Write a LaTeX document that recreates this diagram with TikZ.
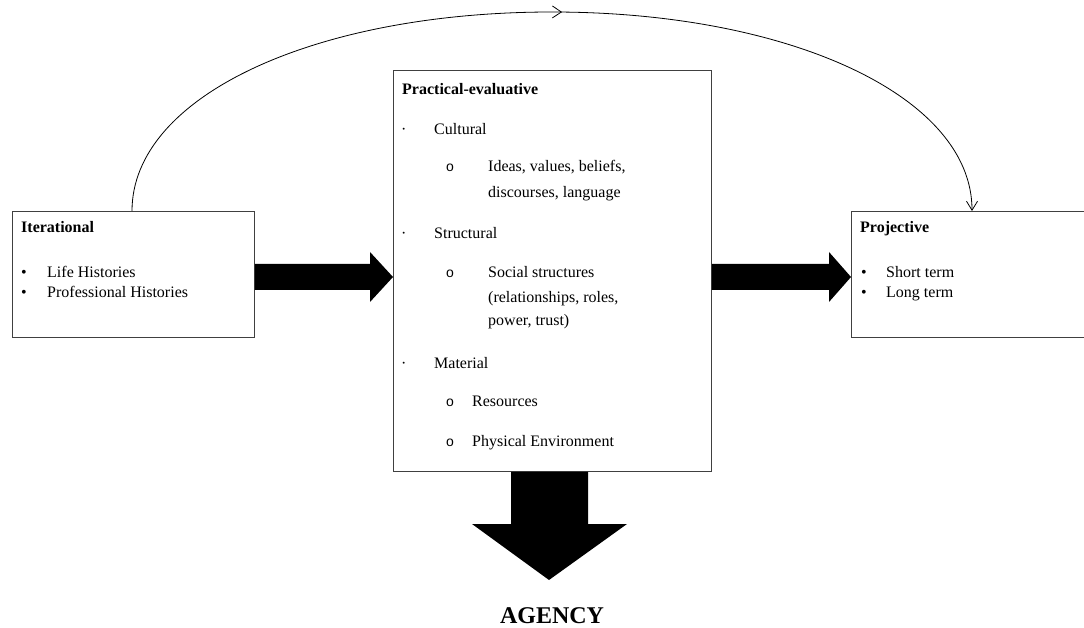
\documentclass[tikz,border=0pt]{standalone}
\usepackage{fontspec}
\setmainfont{Liberation Serif}
\newfontfamily\bulletfont{Liberation Sans}
\usetikzlibrary{arrows.meta,decorations.markings,calc}
\begin{document}
\begin{tikzpicture}[x=1pt,y=-1pt,
  box/.style={draw=black!75, line width=0.8pt, anchor=north west, inner sep=0pt},
  txt/.style={anchor=base west, inner sep=0pt, font=\fontsize{16}{18}\selectfont},
  ttl/.style={txt, font=\fontsize{16}{18}\selectfont\bfseries},
  bul/.style={anchor=base west, inner sep=0pt, font=\fontsize{16}{18}\selectfont},
  sub/.style={anchor=base west, inner sep=0pt, font=\bulletfont\fontsize{14}{16}\selectfont},
  blk/.style={fill=black},
  curv/.style={draw=black, line width=0.8pt}
]
\clip (0,0) rectangle (1084,628);
\useasboundingbox (0,0) rectangle (1084,628);

% boxes
\node[box, minimum width=242pt, minimum height=126pt] (iter) at (12,211) {};
\node[box, minimum width=318pt, minimum height=401pt] (mid) at (393,70) {};
\node[box, minimum width=260pt, minimum height=126pt] (proj) at (851,211) {};

% Iterational text
\node[ttl] (it0) at (21,233) {Iterational};
\node[bul] (itb1) at (21,278) {\textbullet};
\node[txt] (it1) at (47,278) {Life Histories};
\node[bul] (itb2) at (21,298) {\textbullet};
\node[txt] (it2) at (47,298) {Professional Histories};

% Practical-evaluative text
\node[ttl] (m0) at (402,95) {Practical-evaluative};
\node[bul] (md1) at (401,135) {·};
\node[txt] (m1) at (434,135) {Cultural};
\node[sub] (mo1) at (446,172) {o};
\node[txt] (m2) at (488,172) {Ideas, values, beliefs,};
\node[txt] (m3) at (488,198) {discourses, language};
\node[bul] (md2) at (401,239) {·};
\node[txt] (m4) at (434,239) {Structural};
\node[sub] (mo2) at (446,278) {o};
\node[txt] (m5) at (488,278) {Social structures};
\node[txt] (m6) at (488,302) {(relationships, roles,};
\node[txt] (m7) at (488,326) {power, trust)};
\node[bul] (md3) at (401,368) {·};
\node[txt] (m8) at (434,368) {Material};
\node[sub] (mo3) at (446,406) {o};
\node[txt] (m9) at (472,406) {Resources};
\node[sub] (mo4) at (446,446) {o};
\node[txt] (m10) at (472,446) {Physical Environment};

% Projective text
\node[ttl] (p0) at (860,233) {Projective};
\node[bul] (pb1) at (861,278) {\textbullet};
\node[txt] (p1) at (886,278) {Short term};
\node[bul] (pb2) at (861,298) {\textbullet};
\node[txt] (p2) at (886,298) {Long term};

% AGENCY
\node[anchor=base, inner sep=0pt, font=\fontsize{24}{26}\selectfont\bfseries] (ag) at (552,623) {AGENCY};

% block arrows
\fill[blk] (iter.east |- 0,264) -- (370,264) -- (370,252) -- (mid.west |- 0,277)
  -- (370,302) -- (370,290) -- (iter.east |- 0,290) -- cycle;
\fill[blk] (mid.east |- 0,264) -- (829,264) -- (829,252) -- (proj.west |- 0,277)
  -- (829,302) -- (829,290) -- (mid.east |- 0,290) -- cycle;
\fill[blk] (mid.south -| 511,0) -- (mid.south -| 588,0) -- (588,524) -- (627,524)
  -- (549,580) -- (472,524) -- (511,524) -- cycle;

% curved connector
\coordinate (cs) at ($(iter.north west)+(120,0)$);
\coordinate (ce) at ($(proj.north west)+(121,0)$);
\coordinate (ctop) at (552,12);
\draw[curv, -{Straight Barb[length=9pt,width=11pt,line width=0.8pt]},
  postaction={decorate},
  decoration={markings, mark=at position 0.51 with {\arrow[line width=0.8pt]{Straight Barb[length=9pt,width=12pt]}}}]
  (cs) .. controls +(0,-115) and (315,12) .. (ctop)
       .. controls (789,12) and +(0,-115) .. (ce);
\end{tikzpicture}
\end{document}
